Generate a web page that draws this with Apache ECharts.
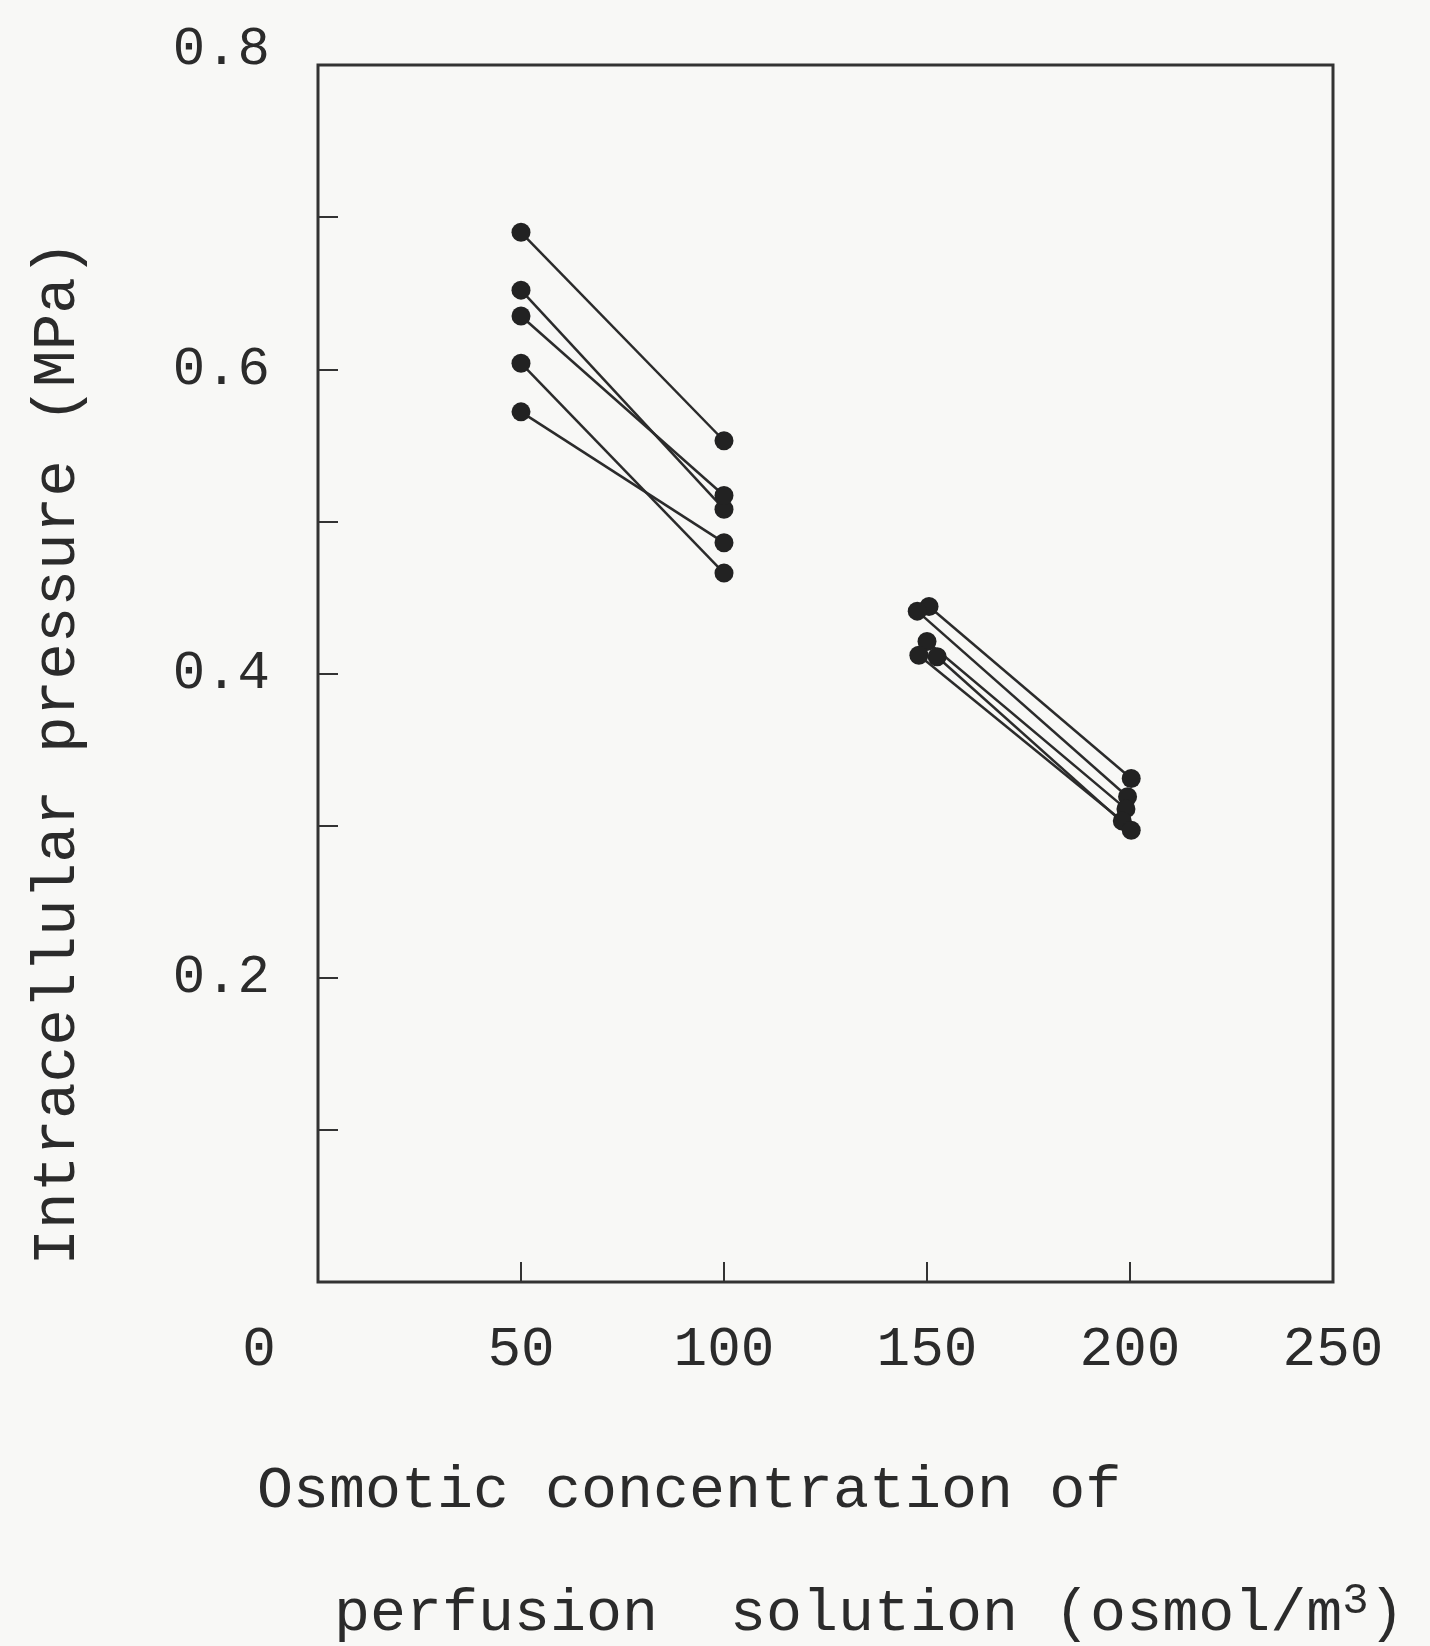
<!DOCTYPE html>
<html>
<head>
<meta charset="utf-8">
<script src="https://cdn.jsdelivr.net/npm/echarts@6/dist/echarts.min.js"></script>
<style>
  html, body { margin: 0; padding: 0; background: #f8f8f6; }
  #chart { width: 1430px; height: 1646px; }
</style>
</head>
<body>
<div id="chart"></div>
<script>
// each cell: one line from low concentration to high concentration
const startX = [50, 50, 50, 50, 50, 150.5, 147.6, 150.0, 148.0, 152.5];
const startY = [0.690, 0.652, 0.635, 0.604, 0.572, 0.444, 0.441, 0.421, 0.412, 0.411];
const endX = [100, 100, 100, 100, 100, 200.3, 199.4, 199.0, 198.1, 200.3];
const endY = [0.553, 0.508, 0.517, 0.466, 0.486, 0.331, 0.319, 0.311, 0.303, 0.297];

const xTicks = [0, 50, 100, 150, 200, 250];
const yLabelled = [0.2, 0.4, 0.6, 0.8];

const FONT = "'Liberation Mono', 'DejaVu Sans Mono', monospace";
const INK = '#2b2b2b';

var chart = echarts.init(document.getElementById('chart'));

var series = [];
for (let i = 0; i < startX.length; i++) {
    series.push({
        type: 'line',
        data: [[startX[i], startY[i]], [endX[i], endY[i]]],
        symbol: 'circle',
        symbolSize: 19,
        itemStyle: { color: '#222' },
        lineStyle: { color: INK, width: 2.5 },
        animation: false
    });
}

var option = {
    backgroundColor: '#f8f8f6',
    grid: {
        left: 318, right: 97, top: 65, bottom: 364,
        show: true,
        borderColor: '#333',
        borderWidth: 3
    },
    xAxis: {
        type: 'value',
        min: 0, max: 250, interval: 50,
        splitLine: { show: false },
        axisLine: { show: false },
        axisTick: { inside: true, length: 20, lineStyle: { color: '#333', width: 2 } },
        axisLabel: {
            fontFamily: FONT, fontSize: 56, color: INK, margin: 40,
            showMinLabel: true, showMaxLabel: true,
            formatter: function(v) {
                if (xTicks.indexOf(v) == -1) return '';
                return v === 0 ? '{z|0}' : String(v);
            },
            rich: { z: { fontFamily: FONT, fontSize: 56, color: INK, padding: [0, 118, 0, 0] } }
        }
    },
    yAxis: {
        type: 'value',
        min: 0, max: 0.8, interval: 0.1,
        splitLine: { show: false },
        axisLine: { show: false },
        axisTick: { inside: true, length: 20, lineStyle: { color: '#333', width: 2 } },
        axisLabel: {
            fontFamily: FONT, fontSize: 54, color: INK, margin: 48,
            showMinLabel: true, showMaxLabel: true,
            formatter: function(v) {
                let r = Math.round(v * 10) / 10;
                if (yLabelled.indexOf(r) == -1) return '';
                return r === 0.8 ? '{t|0.8}' : r.toFixed(1);
            },
            rich: { t: { fontFamily: FONT, fontSize: 54, color: INK, padding: [0, 0, 30, 0] } }
        }
    },
    graphic: [
        {
            type: 'text',
            x: 58, y: 753,
            rotation: Math.PI / 2,
            style: {
                text: 'Intracellular pressure (MPa)',
                font: "61px " + FONT,
                fill: INK,
                textAlign: 'center',
                textVerticalAlign: 'middle'
            }
        },
        {
            type: 'text',
            x: 257, y: 1491,
            style: {
                text: 'Osmotic concentration of',
                font: "60px " + FONT,
                fill: INK,
                textAlign: 'left',
                textVerticalAlign: 'middle'
            }
        },
        {
            type: 'text',
            x: 334, y: 1614,
            style: {
                text: '{a|perfusion  solution (osmol/m}{s|3}{a|)}',
                fill: INK,
                textAlign: 'left',
                textVerticalAlign: 'middle',
                rich: {
                    a: { fontFamily: FONT, fontSize: 60, color: INK, lineHeight: 70 },
                    s: { fontFamily: FONT, fontSize: 44, color: INK, verticalAlign: 'top', lineHeight: 70 }
                }
            }
        }
    ],
    series: series
};

chart.setOption(option);
</script>
</body>
</html>
